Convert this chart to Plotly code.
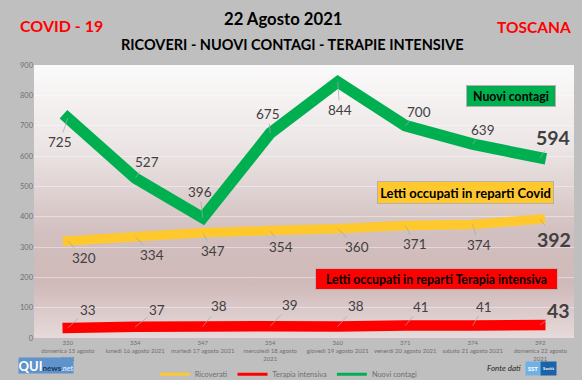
import plotly.graph_objects as go
import urllib.parse

dates = ["domenica 15 agosto<br>2021", "lunedì 16 agosto 2021", "martedì 17 agosto 2021",
         "mercoledì 18 agosto<br>2021", "giovedì 19 agosto 2021", "venerdì 20 agosto 2021",
         "sabato 21 agosto 2021", "domenica 22 agosto<br>2021"]
ricoverati = [320, 334, 347, 354, 360, 371, 374, 392]
terapia = [33, 37, 38, 39, 38, 41, 41, 43]
contagi = [725, 527, 396, 675, 844, 700, 639, 594]

W, H = 582, 380
L, R, T, B = 34.3, 574, 65, 338.3
FONT = "Lato"
TXT = "#404040"

# label offsets from each point, in pixels
off_contagi = [(-8, 24), (12, -16), (-3, -26), (-2, -19), (2, 28), (14, -14), (10, -14), (13, -20)]
off_ricov = [(16, 17), (17, 18), (10, 18), (11, 16), (19, 18), (10, 19), (6, 20), (14, 20)]
off_terapia = [(20, -18), (22, -17), (16, -20), (20, -21), (18, -20), (16, -19), (11, -19), (18, -14)]


def px(x):
    return (x - L) / (R - L)


def py(y):
    return (B - y) / (B - T)


fig = go.Figure()
x = list(range(8))
for name, vals, col, w in [("Ricoverati", ricoverati, "#ffc82d", 9.5),
                           ("Terapia intensiva", terapia, "#ff0000", 10.5),
                           ("Nuovi contagi", contagi, "#00b050", 11.5)]:
    fig.add_trace(go.Scatter(x=x, y=vals, name=name, mode="lines",
                             line=dict(color=col, width=w, simplify=False),
                             hoverinfo="skip"))

ann = []
for vals, offs in [(contagi, off_contagi), (ricoverati, off_ricov), (terapia, off_terapia)]:
    for i, (v, (dx, dy)) in enumerate(zip(vals, offs)):
        last = i == 7
        ann.append(dict(x=i, y=v, xref="x", yref="y", ax=dx, ay=dy, axref="pixel", ayref="pixel",
                        text=f"<b>{v}</b>" if last else str(v), showarrow=True,
                        arrowhead=0, arrowwidth=0.7, arrowcolor="#a6a6a6",
                        font=dict(family=FONT, size=19.5 if last else 13.5, color=TXT)))


def label(xp, yp, text, size, color="black", bold=True, italic=False):
    t = text
    if bold:
        t = f"<b>{t}</b>"
    if italic:
        t = f"<i>{t}</i>"
    ann.append(dict(x=px(xp), y=py(yp), xref="paper", yref="paper", text=t, showarrow=False,
                    xanchor="center", yanchor="middle",
                    font=dict(family=FONT, size=size, color=color)))


def box(x0, x1, y0, y1, text, bg, size=12.5):
    ann.append(dict(x=px((x0 + x1) / 2), y=py((y0 + y1) / 2), xref="paper", yref="paper",
                    text=f"<b>{text}</b>", showarrow=False, xanchor="center", yanchor="middle",
                    width=x1 - x0 - 2, height=y1 - y0 - 2, bgcolor=bg, borderpad=0,
                    bordercolor="#b8b0b0", borderwidth=1,
                    font=dict(family=FONT, size=size, color="black")))


label(62, 25, "COVID - 19", 16, "#ff0000")
label(534, 27, "TOSCANA", 15.5, "#ff0000")
label(284, 19, "22 Agosto 2021", 16.7)
label(293, 44, "RICOVERI - NUOVI CONTAGI - TERAPIE INTENSIVE", 14.5)
box(466, 556, 85, 107, "Nuovi contagi", "#00b050", 12.3)
box(377, 554, 181, 204, "Letti occupati in reparti Covid", "#ffc82d", 13)
box(315, 558, 268, 290, "Letti occupati in reparti Terapia intensiva", "#ff0000", 12.3)
label(504, 368, "Fonte dati", 8, "#262626", bold=False, italic=True)

# logos drawn as text badges
ann.append(dict(x=px(46), y=py(365.5), xref="paper", yref="paper", showarrow=False,
                xanchor="center", yanchor="middle",
                text="<b><span style='font-size:13px;color:#ffffff'>QUI</span>"
                     "<span style='font-size:8px;color:#1d3557'>news</span>"
                     "<span style='font-size:7px;color:#dce8f5'>.net</span></b>",
                width=54, height=15, bgcolor="#5f93cc", borderpad=0,
                font=dict(family=FONT, size=8)))
ann.append(dict(x=px(533), y=py(368.5), xref="paper", yref="paper", showarrow=False,
                xanchor="center", yanchor="middle",
                text="<b>SST</b>", width=14, height=13, bgcolor="#6fb1e4", borderpad=0,
                font=dict(family=FONT, size=6, color="white")))
ann.append(dict(x=px(548.5), y=py(368.5), xref="paper", yref="paper", showarrow=False,
                xanchor="center", yanchor="middle",
                text="<b>Sanità</b>", width=15, height=13, bgcolor="#1a63a8", borderpad=0,
                font=dict(family=FONT, size=4, color="white")))

svg = ("<svg xmlns='http://www.w3.org/2000/svg' width='10' height='100' preserveAspectRatio='none'>"
       "<defs><linearGradient id='g' x1='0' y1='0' x2='0' y2='1'>"
       "<stop offset='0' stop-color='#fbfafa'/><stop offset='0.3' stop-color='#ece5e5'/>"
       "<stop offset='0.62' stop-color='#d2bfbf'/><stop offset='0.8' stop-color='#d0b9b9'/>"
       "<stop offset='1' stop-color='#e6dada'/></linearGradient></defs>"
       "<rect width='10' height='100' fill='url(#g)'/></svg>")

fig.update_layout(
    width=W, height=H, autosize=False,
    margin=dict(l=L, r=W - R, t=T, b=H - B, autoexpand=False),
    paper_bgcolor="#bfbfbf", plot_bgcolor="rgba(0,0,0,0)",
    font=dict(family=FONT, color="#7f7f7f"),
    annotations=ann,
    images=[dict(source="data:image/svg+xml," + urllib.parse.quote(svg), xref="paper", yref="paper",
                 x=0, y=1, sizex=1, sizey=1, sizing="stretch", xanchor="left", yanchor="top",
                 layer="below")],
    xaxis=dict(range=[-0.5, 7.5], tickmode="array", tickvals=x,
               ticktext=[f"{v}<br>{d}" for v, d in zip(ricoverati, dates)],
               tickangle=0, tickfont=dict(size=6, color="#6f6f6f"), ticks="", ticklen=0,
               showgrid=False, zeroline=False, showline=False),
    yaxis=dict(range=[0, 900], tickmode="array", tickvals=list(range(0, 901, 100)),
               tickfont=dict(size=7.5, color="#6f6f6f"), ticks="", gridcolor="rgba(255,255,255,0.4)",
               gridwidth=1, zeroline=False, showline=False),
    legend=dict(orientation="h", x=px(155), y=py(360), xanchor="left", yanchor="top",
                bgcolor="rgba(0,0,0,0)", font=dict(size=7.4, color="#6f6f6f"),
                itemwidth=30, tracegroupgap=0),
    hovermode=False,
)

post = """
document.body.style.margin='0';
document.documentElement.style.overflow='hidden';
var s=document.createElement('style');
s.textContent='.scatterlayer .js-line{stroke-linejoin:miter!important;stroke-linecap:square!important;stroke-miterlimit:10!important}'
+'.legend .js-line{stroke-width:3px!important}';
document.head.appendChild(s);
"""
fig.write_html("out.html", post_script=post, config={"displayModeBar": False})
